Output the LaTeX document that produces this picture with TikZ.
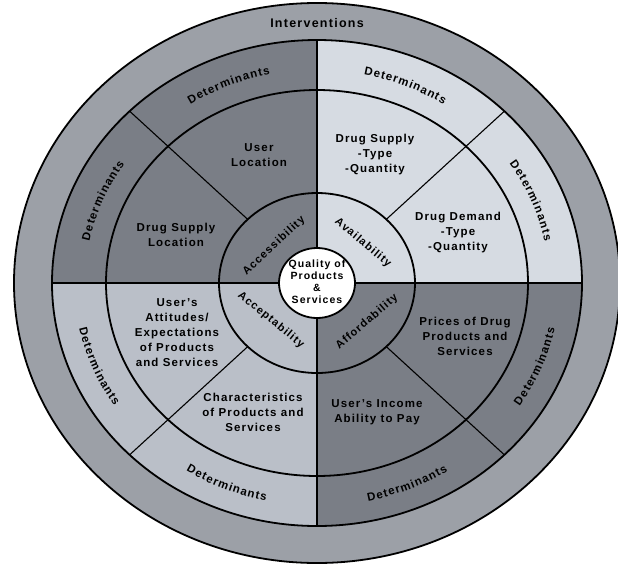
\documentclass[tikz,border=0pt]{standalone}
\usepackage{fontspec}
\setmainfont{Liberation Sans}[LetterSpace=10]
\usetikzlibrary{decorations.text}
\definecolor{ringgray}{RGB}{156,160,167}
\definecolor{darkquad}{RGB}{122,126,134}
\definecolor{lightquad}{RGB}{214,219,226}
\definecolor{midquad}{RGB}{186,191,200}
\newcommand\detfont{\fontsize{11.5}{12}\selectfont\bfseries}

\begin{document}
\begin{tikzpicture}[x=1pt, y=1pt,
	ring/.style={draw=black, line width=1.8pt},
	spoke/.style={draw=black, line width=1.5pt},
	split/.style={draw=black, line width=1.1pt},
	factor/.style={align=center, inner sep=0pt,
		font=\fontsize{11.5}{15}\selectfont\bfseries},
	dimension/.style={inner sep=0pt, font=\fontsize{11}{12}\selectfont\bfseries},
	determinant/.style={decorate, decoration={text along path, text align=center,
			text={|\detfont|{D\kern1.1pt}{e\kern1.1pt}{t\kern1.1pt}{e\kern1.1pt}{r\kern1.1pt}{m\kern1.1pt}{i\kern1.1pt}{n\kern1.1pt}{a\kern1.1pt}{n\kern1.1pt}{t\kern1.1pt}s}}}
	]
	\useasboundingbox (-317,-283) rectangle (301,283);
	\fill[ringgray] (0,0) ellipse [x radius=303, y radius=280];
	\fill[darkquad]  (0,0) -- (90:265 and 243)  arc[start angle=90,  end angle=180, x radius=265, y radius=243] -- cycle;
	\fill[lightquad] (0,0) -- (0:265 and 243)   arc[start angle=0,   end angle=90,  x radius=265, y radius=243] -- cycle;
	\fill[midquad]   (0,0) -- (180:265 and 243) arc[start angle=180, end angle=270, x radius=265, y radius=243] -- cycle;
	\fill[darkquad]  (0,0) -- (270:265 and 243) arc[start angle=270, end angle=360, x radius=265, y radius=243] -- cycle;
	
	\draw[ring] (0,0) ellipse [x radius=303, y radius=280];
	\draw[ring] (0,0) ellipse [x radius=265, y radius=243];
	\draw[ring] (0,0) ellipse [x radius=211, y radius=193];
	\draw[ring] (0,0) ellipse [x radius=98, y radius=90];
	\foreach \a in {0,90,180,270}
		\draw[spoke] (\a:38 and 35) -- (\a:265 and 243);
	\foreach \a in {45,135,225,315}
		\draw[split] (\a:98 and 90) -- (\a:265 and 243);
	\filldraw[ring, fill=white] (0,0) ellipse [x radius=38, y radius=35];
	
	% determinants band, read left to right in every sector
	\foreach \m [evaluate=\m as \s using \m+20, evaluate=\m as \e using \m-20] in {22.5,67.5,112.5,157.5}
		\path[determinant] (\s:232 and 213) arc[start angle=\s, end angle=\e, x radius=232, y radius=213];
	\foreach \m [evaluate=\m as \s using \m-20, evaluate=\m as \e using \m+20] in {-22.5,-67.5,-112.5,-157.5}
		\path[determinant] (\s:243 and 223) arc[start angle=\s, end angle=\e, x radius=243, y radius=223];
	
	\node[font=\fontsize{12.5}{12}\selectfont\bfseries] (interventions) at (0,260) {Interventions};
	\node[align=center, inner sep=0pt, font=\fontsize{10.5}{12}\selectfont\bfseries]
		(quality) at (0,1) {Quality of\\Products\\\&\\Services};
	
	\node[dimension, rotate=43]  (access) at (-43,37)  {Accessibility};
	\node[dimension, rotate=-40] (avail)  at (46,40)   {Availability};
	\node[dimension, rotate=-39] (accept) at (-46,-37) {Acceptability};
	\node[dimension, rotate=41]  (afford) at (50,-39)  {Affordability};
	
	\node[factor] (userloc)   at (-58,128)  {User\\Location};
	\node[factor] (supplyloc) at (-141,48)  {Drug Supply\\Location};
	\node[factor] (supply)    at (58,128)   {Drug Supply\\-Type\\-Quantity};
	\node[factor] (demand)    at (141,50)   {Drug Demand\\-Type\\-Quantity};
	\node[factor] (attitudes) at (-140,-50) {User's\\Attitudes/\\Expectations\\of Products\\and Services};
	\node[factor] (traits)    at (-64,-129) {Characteristics\\of Products and\\Services};
	\node[factor] (prices)    at (148,-53)  {Prices of Drug\\Products and\\Services};
	\node[factor] (income)    at (60,-129)  {User's Income\\Ability to Pay};
\end{tikzpicture}
\end{document}
